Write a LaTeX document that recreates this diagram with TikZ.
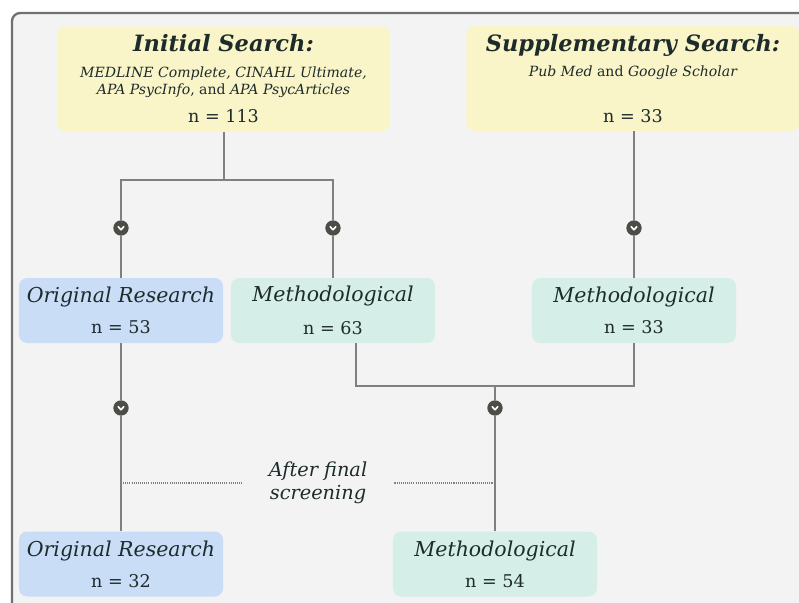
\documentclass[tikz,border=0pt]{standalone}
\usepackage{fontspec}
\setmainfont{DejaVu Serif}
\usepackage{xcolor}
\usepackage{tikz}
\definecolor{paper}{RGB}{244,243,243}
\definecolor{framegray}{RGB}{112,112,112}
\definecolor{linegray}{RGB}{128,128,128}
\definecolor{dotgray}{RGB}{77,77,72}
\definecolor{inkdark}{RGB}{30,43,43}
\definecolor{srchyellow}{RGB}{249,245,200}
\definecolor{orblue}{RGB}{201,221,247}
\definecolor{mtgreen}{RGB}{213,238,232}
\lineskiplimit=-100pt

\newcommand{\bigtitle}[1]{{\fontsize{19.2}{20}\selectfont\bfseries\itshape #1}}
\newcommand{\srcsub}[1]{{\fontsize{12}{13}\selectfont #1}}
\newcommand{\boxtitle}[1]{{\fontsize{17.5}{19}\selectfont\itshape #1}}
\newcommand{\boxnum}[1]{{\fontsize{15}{16}\selectfont #1}}

\begin{document}
\begin{tikzpicture}[x=0.03cm, y=-0.03cm,
        box/.style={rounded corners=7pt, minimum width=6.12cm, minimum height=1.95cm,
                    align=center, text=inkdark, inner sep=0pt},
        orbox/.style={box, fill=orblue},
        mebox/.style={box, fill=mtgreen},
        srchbox/.style={box, fill=srchyellow, minimum width=9.99cm, minimum height=3.15cm},
        conn/.style={draw=linegray, line width=1.3pt},
        dotline/.style={draw=linegray, line width=0.9pt, dash pattern=on 0.9pt off 0.9pt},
        chev/.style={circle, fill=dotgray, minimum size=0.46cm, inner sep=0pt,
                     path picture={\draw[white, line width=1.4pt, line cap=round, line join=round]
                        ([xshift=-2.4pt, yshift=1.1pt]path picture bounding box.center)
                        -- ([yshift=-1.5pt]path picture bounding box.center)
                        -- ([xshift=2.4pt, yshift=1.1pt]path picture bounding box.center);}}]
        \useasboundingbox (0,0) rectangle (799,602);
        % paper and frame
        \fill[white] (0,0) rectangle (799,602);
        \draw[framegray, line width=2pt, rounded corners=7pt, fill=paper] (12,13) rectangle (840,650);

        % searches
        \node[srchbox] (init) at (223.5,79) {
            \bigtitle{Initial Search:}\\[10pt]
            \srcsub{\itshape MEDLINE Complete, CINAHL Ultimate,}\\[2.5pt]
            \srcsub{\itshape APA PsycInfo\upshape, and \itshape APA PsycArticles}\\[12.2pt]
            \boxnum{n = 113}
        };
        \node[srchbox] (supp) at (633,78.5) {
            \bigtitle{Supplementary Search:}\\[9.2pt]
            \srcsub{\itshape Pub Med \upshape and \itshape Google Scholar}\\[27.6pt]
            \boxnum{n = 33}
        };

        % first split
        \node[orbox] (or1) at (121,310.5) {\boxtitle{Original Research}\\[14.4pt]\boxnum{n = 53}};
        \node[mebox] (me1) at (333,310.5) {\boxtitle{Methodological}\\[16.4pt]\boxnum{n = 63}};
        \node[mebox] (me2) at (634,310.5) {\boxtitle{Methodological}\\[14.4pt]\boxnum{n = 33}};

        % after final screening
        \node[orbox] (or2) at (121,564) {\boxtitle{Original Research}\\[14.4pt]\boxnum{n = 32}};
        \node[mebox] (me3) at (495,564) {\boxtitle{Methodological}\\[14.4pt]\boxnum{n = 54}};

        \node[text=inkdark, align=center, inner xsep=0.81cm, inner ysep=0pt,
              font=\fontsize{16.5}{19.6}\selectfont\itshape] (after) at (318,483) {After final\\screening};

        % chevrons
        \node[chev] (c1) at (121,228) {};
        \node[chev] (c2) at (333,228) {};
        \node[chev] (c3) at (634,228) {};
        \node[chev] (c4) at (121,408) {};
        \node[chev] (c5) at (495,408) {};

        \coordinate (ja) at (224,180);
        \coordinate (jl) at (356,386);

        % connectors
        \draw[conn] (init.south -| ja) -- (ja);
        \draw[conn] (ja) -| (c1);
        \draw[conn] (ja) -| (c2);
        \draw[conn] (c1) -- (or1);
        \draw[conn] (c2) -- (me1);
        \draw[conn] (c3 |- supp.south) -- (c3);
        \draw[conn] (c3) -- (me2);
        \draw[conn] (or1) -- (c4);
        \draw[conn] (c4) -- (or2);
        \draw[conn] (jl |- me1.south) -- (jl) -| (me2);
        \draw[conn] (jl -| c5) -- (c5);
        \draw[conn] (c5) -- (me3);
        \draw[dotline] (c4 |- after) -- (after);
        \draw[dotline] (after) -- (c5 |- after);
\end{tikzpicture}
\end{document}
